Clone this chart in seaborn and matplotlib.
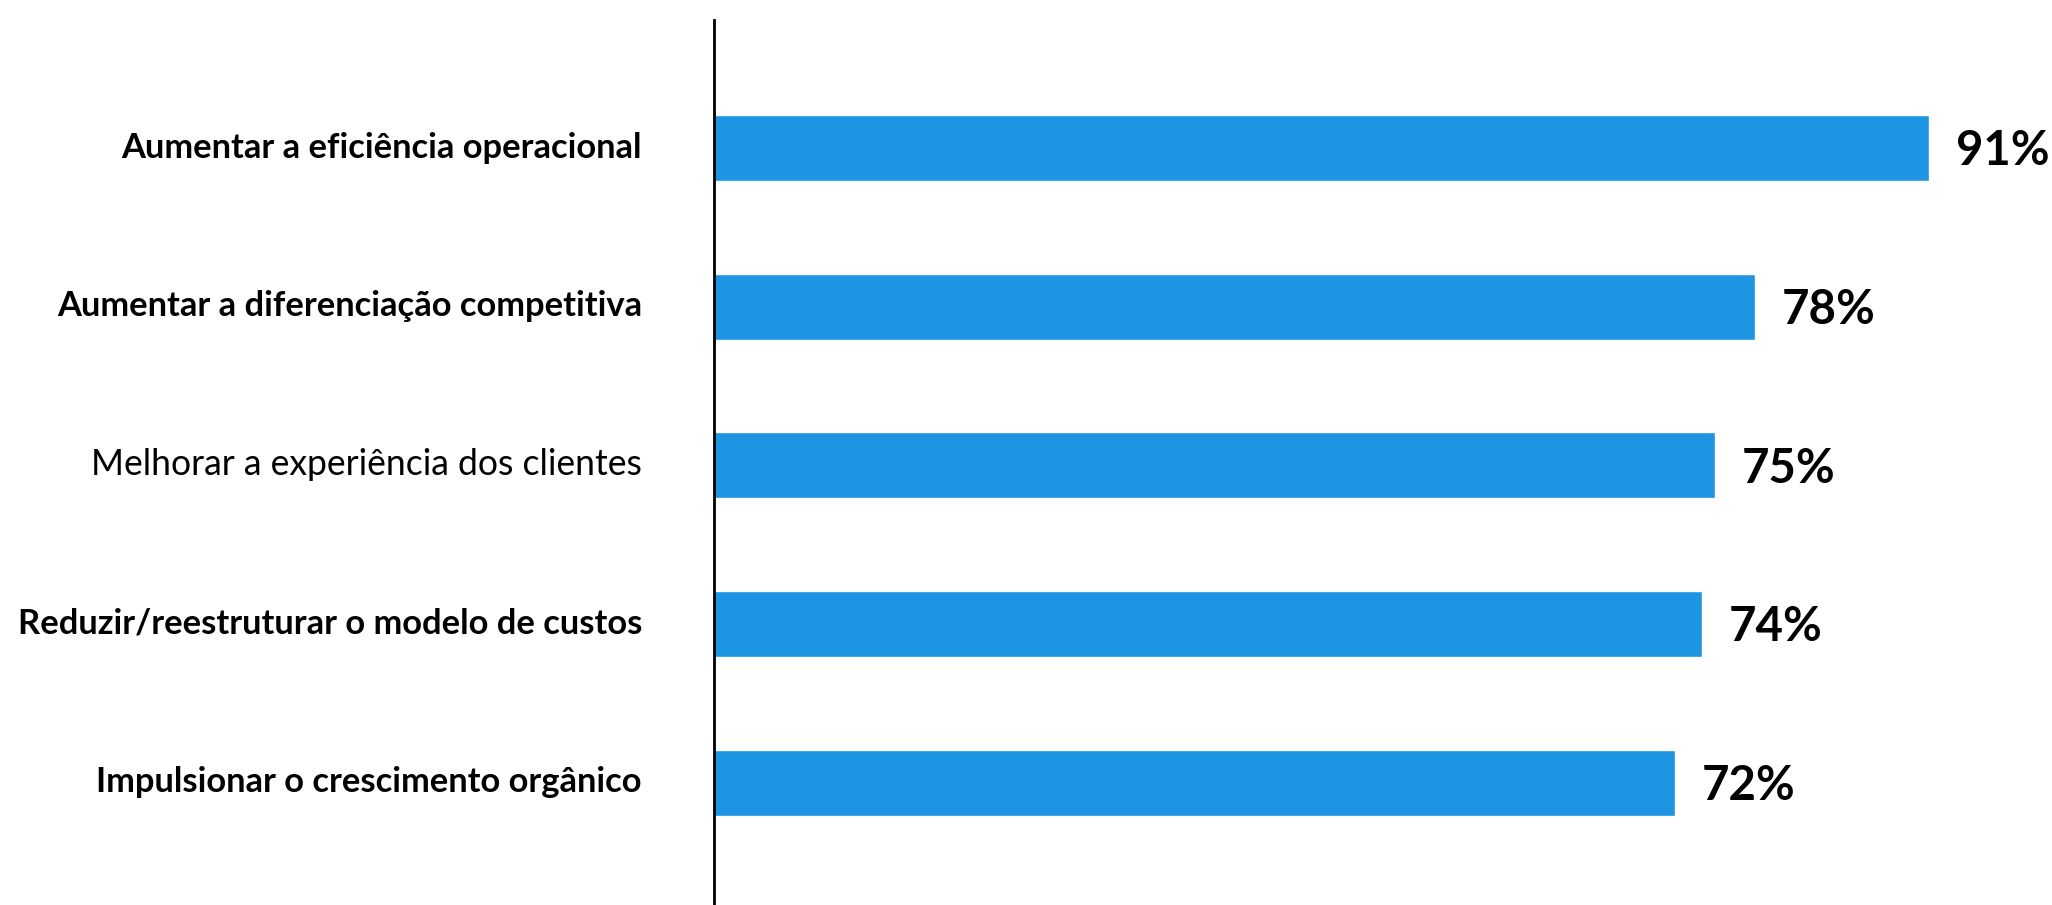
import matplotlib
matplotlib.use("Agg")
import matplotlib.pyplot as plt
from matplotlib import font_manager as fm
import seaborn as sns
import pandas as pd

# Data
categories = [
    "Aumentar a eficiência operacional",
    "Aumentar a diferenciação competitiva",
    "Melhorar a experiência dos clientes",
    "Reduzir/reestruturar o modelo de custos",
    "Impulsionar o crescimento orgânico",
]
values = [91, 78, 75, 74, 72]
emphasized = [True, True, False, True, True]

BAR_COLOR = "#1d95e3"

sns.set_theme(style="white")


def pick_family(candidates):
    for fam in candidates:
        try:
            fm.findfont(fm.FontProperties(family=fam), fallback_to_default=False)
            return fam
        except Exception:
            continue
    return None


base_family = pick_family(["Lato", "Roboto"]) or "DejaVu Sans"
semi_family = pick_family(["Lato Semibold", "Lato SemiBold", "Lato Medium",
                           "Roboto Medium"])
plt.rcParams["font.family"] = [base_family, "DejaVu Sans"]

df = pd.DataFrame({"categoria": categories, "valor": values})

W, H, DPI = 2052, 905, 100
fig = plt.figure(figsize=(W / DPI, H / DPI), dpi=DPI, facecolor="white")
ax = fig.add_axes([714 / W, 0.0, 1335 / W, 1 - 20 / H])

sns.barplot(
    data=df, y="categoria", x="valor", order=categories,
    orient="h", color=BAR_COLOR, saturation=1, width=0.416, ax=ax,
)

ax.set_xlim(0, 100)
ax.set_ylim(4.772, -0.807)

for side in ["top", "right", "bottom"]:
    ax.spines[side].set_visible(False)
ax.spines["left"].set_color("black")
ax.spines["left"].set_linewidth(2.0)
ax.set_xticks([])
ax.set_yticks([])
ax.set_xlabel("")
ax.set_ylabel("")
ax.grid(False)

# Category names to the left of the axis line
ytrans = ax.get_yaxis_transform()
for i, (cat, emph) in enumerate(zip(categories, emphasized)):
    if emph and semi_family:
        fam, weight, size = semi_family, "normal", 25
    elif emph:
        fam, weight, size = base_family, "bold", 24.8
    else:
        fam, weight, size = base_family, "normal", 25.6
    ax.text(-0.054, i + 0.06, cat, transform=ytrans, ha="right", va="baseline",
            fontsize=size, fontweight=weight, color="black",
            family=[fam, "DejaVu Sans"], clip_on=False)

# Percentage labels just past the end of each bar
for i, v in enumerate(values):
    ax.text(v + 2.0, i + 0.11, f"{v}%", ha="left", va="baseline",
            fontsize=34, fontweight="bold", color="black",
            family=[base_family, "DejaVu Sans"], clip_on=False)

fig.savefig("out.png", dpi=DPI, facecolor="white")
